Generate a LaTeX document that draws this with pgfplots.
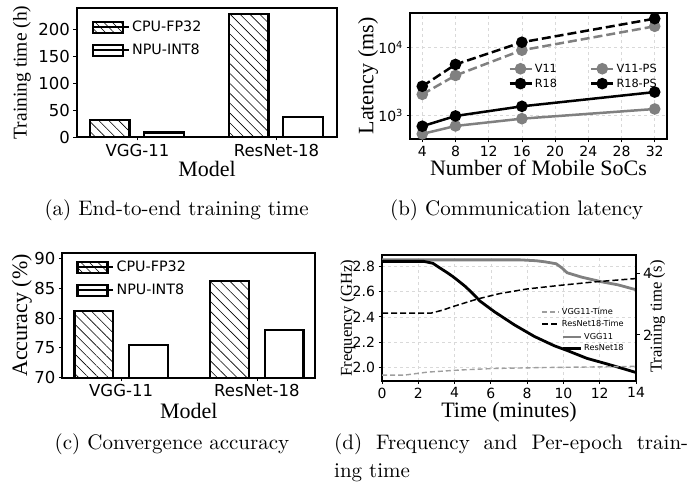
\documentclass[border=0pt]{standalone}
\usepackage{fontspec}
\usepackage{pgfplots}
\pgfplotsset{compat=1.18}
\usetikzlibrary{patterns.meta}
\newfontfamily\dv{DejaVu Sans}
\newfontfamily\tms{Liberation Serif}
\newfontfamily\capfont{lmroman10-regular.otf}
\newcommand\fs[1]{\fontsize{#1}{#1}\selectfont}
\newcommand\capf{\capfont\fs{21}}
\definecolor{mgray}{gray}{0.5}
\definecolor{lgray}{gray}{0.62}
\pgfplotsset{
  base/.style={scale only axis, anchor=south west,
    axis line style={line width=2.2pt},
    tick style={black, line width=0.8pt}, tick align=outside,
    major tick length=3.5pt,
    /pgf/number format/assume math mode=true,
    label style={font=\tms\fs{22}},
    xtick pos=left, ytick pos=left},
  hatchbar/.style={ybar, bar width=0.285, draw=black, line width=2.2pt,
    pattern={Lines[angle=-45,distance=7pt,line width=0.6pt]},
    legend image code/.code={\draw[line width=2.2pt, pattern={Lines[angle=-45,distance=6pt,line width=0.6pt]}] (0pt,-5.5pt) rectangle (30pt,5.5pt); \path (0pt,0pt) -- (36pt,0pt);}},
  plainbar/.style={ybar, bar width=0.285, draw=black, line width=2.2pt, fill=white,
    legend image code/.code={\draw[line width=2.2pt, fill=white] (0pt,-5.5pt) rectangle (30pt,5.5pt); \path (0pt,0pt) -- (36pt,0pt);}},
}
\begin{document}
\begin{tikzpicture}
% (a)
\begin{axis}[base, at={(77pt,350pt)}, width=260pt, height=129pt,
  xmin=-0.435, xmax=1.435, ymin=0, ymax=239,
  xtick={0,1}, xticklabels={VGG-11,ResNet-18}, ytick={0,50,100,150,200},
  ticklabel style={font=\dv\fs{16.5}},
  xlabel={Model}, ylabel={Training time (h)},
  xlabel style={at={(axis description cs:0.5,-0.248)}, anchor=center},
  ylabel style={font=\tms\fs{19.5}, at={(axis description cs:-0.212,0.5)}, anchor=center},
  legend style={at={(axis description cs:0.045,0.93)}, anchor=north west, draw=none, fill=none, font=\dv\fs{14.3}, row sep=7pt},
  legend cell align=left]
\addplot[hatchbar] coordinates {(-0.2,31) (0.8,228)};
\addlegendentry{CPU-FP32}
\addplot[plainbar] coordinates {(0.19,8.5) (1.19,37.5)};
\addlegendentry{NPU-INT8}
\end{axis}
% (b)
\begin{axis}[base, ymode=log, at={(410pt,348pt)}, width=257pt, height=126pt,
  xmin=2.52, xmax=33.48, ymin=455, ymax=32100,
  xtick={4,8,12,16,20,24,28,32}, ytick={1000,10000},
  yticklabels={10\textsuperscript{3},10\textsuperscript{4}},
  yminorticks=false, grid=major, grid style={dashed, gray!30, line width=0.6pt},
  ticklabel style={font=\dv\fs{14}},
  xlabel={Number of Mobile SoCs}, ylabel={Latency (ms)},
  xlabel style={at={(axis description cs:0.5,-0.23)}, anchor=center},
  ylabel style={at={(axis description cs:-0.163,0.5)}, anchor=center},
  legend columns=2,
  legend style={at={(axis description cs:0.37,0.63)}, anchor=north west, draw=none, fill=none, font=\dv\fs{11.3}, row sep=1pt,
    /tikz/every even column/.append style={column sep=31pt}},
  legend cell align=left,
  legend image code/.code={\draw[mark repeat=2,mark phase=2,#1] plot coordinates {(0pt,0pt) (11pt,0pt) (22pt,0pt)};}]
\addplot[mgray, line width=2.5pt, mark=*, mark size=4.5pt] coordinates {(4,540) (8,707) (16,904) (32,1253)};
\addlegendentry{V11}
\addplot[mgray, line width=2.5pt, dash pattern=on 9pt off 4pt, mark=*, mark size=4.5pt, mark options={solid}] coordinates {(4,2055) (8,3890) (16,9130) (32,20470)};
\addlegendentry{V11-PS}
\addplot[black, line width=2.5pt, mark=*, mark size=4.5pt] coordinates {(4,700) (8,990) (16,1372) (32,2220)};
\addlegendentry{R18}
\addplot[black, line width=2.5pt, dash pattern=on 9pt off 4pt, mark=*, mark size=4.5pt, mark options={solid}] coordinates {(4,2700) (8,5640) (16,11950) (32,26500)};
\addlegendentry{R18-PS}
\end{axis}
% (c)
\begin{axis}[base, at={(62.3pt,109.3pt)}, width=253pt, height=124.4pt,
  xmin=-0.433, xmax=1.43, ymin=70, ymax=90.84,
  xtick={0,1}, xticklabels={VGG-11,ResNet-18}, ytick={70,75,80,85,90},
  ticklabel style={font=\dv\fs{16.5}},
  xlabel={Model}, ylabel={Accuracy (\%)},
  xlabel style={at={(axis description cs:0.5,-0.265)}, anchor=center},
  ylabel style={at={(axis description cs:-0.16,0.5)}, anchor=center},
  legend style={at={(axis description cs:0.043,0.97)}, anchor=north west, draw=none, fill=none, font=\dv\fs{14.3}, row sep=7pt},
  legend cell align=left]
\addplot[hatchbar] coordinates {(-0.2,81.17) (0.8,86.25)};
\addlegendentry{CPU-FP32}
\addplot[plainbar] coordinates {(0.2,75.47) (1.2,77.99)};
\addlegendentry{NPU-INT8}
\end{axis}
% (d) left axis
\begin{axis}[base, at={(382pt,106.3pt)}, width=254pt, height=126pt,
  xmin=0, xmax=14, ymin=1.893, ymax=2.893,
  xtick={0,2,4,6,8,10,12,14}, ytick={2.0,2.2,2.4,2.6,2.8},
  yticklabel style={/pgf/number format/fixed, /pgf/number format/fixed zerofill, /pgf/number format/precision=1},
  grid=major, grid style={dashed, gray!30, line width=0.6pt},
  ticklabel style={font=\dv\fs{14}},
  xlabel={Time (minutes)}, ylabel={Frequency (GHz)},
  xlabel style={at={(axis description cs:0.5,-0.252)}, anchor=center},
  ylabel style={font=\tms\fs{16.6}, at={(axis description cs:-0.134,0.496)}, anchor=center},
  legend style={at={(axis description cs:0.972,0.41)}, anchor=north east, draw=none, fill=none, font=\dv\fs{8.2}, row sep=0pt},
  legend cell align=left,
  legend image code/.code={\draw[#1] (0pt,0pt) -- (18pt,0pt);}]
\addplot[mgray, line width=2.8pt] coordinates {(0,2.852) (7.6,2.852) (8.5,2.845) (9.0,2.836) (9.6,2.821) (9.9,2.79) (10.2,2.75) (11.0,2.715) (12.1,2.678) (13.0,2.654) (14,2.615)};
\addlegendentry{VGG11}
\addplot[black, line width=2.8pt] coordinates {(0,2.84) (2.3,2.84) (2.8,2.825) (3.2,2.787) (3.6,2.75) (3.9,2.72) (4.3,2.675) (4.6,2.64) (5.0,2.585) (5.4,2.525) (6.2,2.44) (7.3,2.336) (8.4,2.244) (9.5,2.17) (10.2,2.133) (11.3,2.07) (12.4,2.026) (13.4,1.984) (14,1.958)};
\addlegendentry{ResNet18}
\end{axis}
% (d) right axis
\begin{axis}[base, at={(382pt,106.3pt)}, width=254pt, height=126pt,
  axis y line*=right, axis x line=none,
  xmin=0, xmax=14, ymin=0.5, ymax=4.62, ytick={2,4}, ytick pos=right,
  ticklabel style={font=\dv\fs{14}},
  ylabel={Training time (s)},
  ylabel style={font=\tms\fs{16.7}, at={(axis description cs:1.085,0.508)}, anchor=center},
  legend style={at={(axis description cs:0.972,0.609)}, anchor=north east, draw=none, fill=none, font=\dv\fs{8.2}, row sep=0pt},
  legend cell align=left,
  legend image code/.code={\draw[#1] (0pt,0pt) -- (17pt,0pt);}]
\addplot[lgray, line width=1.4pt, dash pattern=on 5pt off 3pt] coordinates {(0,0.68) (1.2,0.68) (2.5,0.78) (4.3,0.85) (6.2,0.9) (8.9,0.93) (11.7,0.95) (14,0.97)};
\addlegendentry{VGG11-Time}
\addplot[black, line width=1.5pt, dash pattern=on 6pt off 3pt] coordinates {(0,2.71) (2.7,2.71) (3.3,2.8) (4.0,2.94) (5.25,3.17) (6.5,3.35) (8,3.5) (9.85,3.62) (11.7,3.73) (14,3.84)};
\addlegendentry{ResNet18-Time}
\end{axis}
% captions
\node[font=\capf, anchor=base] at (176.6pt,271pt) {(a) End-to-end training time};
\node[font=\capf, anchor=base] at (516.7pt,271pt) {(b) Communication latency};
\node[font=\capf, anchor=base] at (172pt,37pt) {(c) Convergence accuracy};
\node[font=\capf, anchor=base west, inner sep=0pt] at (334pt,37pt) {\makebox[354pt][s]{(d) Frequency and Per-epoch train-}};
\node[font=\capf, anchor=base west, inner sep=0pt] at (334pt,9pt) {ing time};
\pgfresetboundingbox
\useasboundingbox (0,0) rectangle (697pt,487pt);
\end{tikzpicture}
\end{document}
